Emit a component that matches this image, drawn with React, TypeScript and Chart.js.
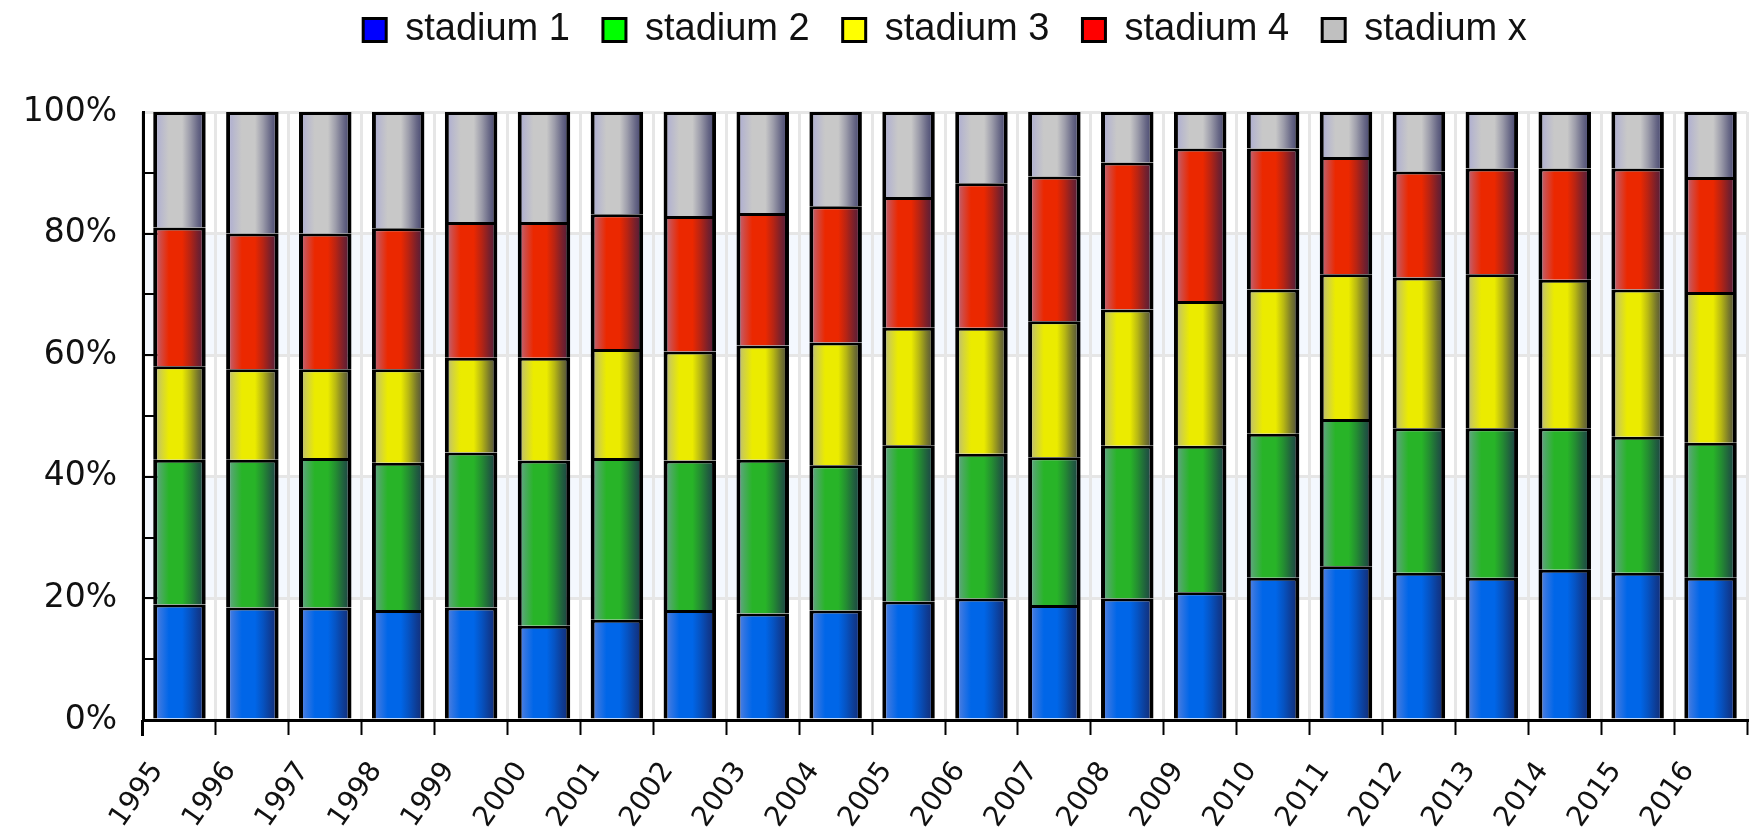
import React, { useEffect, useRef } from "react";
import { Chart, registerables } from "chart.js";

Chart.register(...registerables);

const years = ["1995","1996","1997","1998","1999","2000","2001","2002","2003","2004","2005","2006","2007","2008","2009","2010","2011","2012","2013","2014","2015","2016"];
const stadium1 = [19.0,18.5,18.5,18.1,18.5,15.5,16.5,18.1,17.5,18.0,19.5,20.0,18.9,20.0,21.0,23.4,25.3,24.2,23.4,24.7,24.2,23.4];
const stadium2 = [23.8,24.3,24.6,24.2,25.5,27.2,26.6,24.6,25.3,23.9,25.7,23.8,24.3,25.1,24.1,23.7,24.2,23.8,24.6,23.3,22.4,22.2];
const stadium3 = [15.4,14.9,14.6,15.4,15.6,16.9,17.9,17.9,18.8,20.2,19.3,20.7,22.4,22.4,23.8,23.7,23.8,24.8,25.3,24.4,24.2,24.8];
const stadium4 = [22.8,22.3,22.3,23.2,22.3,22.3,22.2,22.3,21.8,22.4,21.5,23.8,23.8,24.2,25.1,23.2,19.3,17.4,17.4,18.3,19.9,18.9];
const stadiumX = [19.0,20.0,20.0,19.1,18.1,18.1,16.8,17.1,16.6,15.5,14.0,11.7,10.6,8.3,6.0,6.0,7.4,9.8,9.3,9.3,9.3,10.7];
const seriesNames = ["stadium 1","stadium 2","stadium 3","stadium 4","stadium x"];
const yMinorTicks = [10,20,30,40,50,60,70,80,90];
const yTickStep = 20;

const legendColors = ["#0000FF","#00FF00","#FFFF00","#FF0000","#C0C0C0"];
const barBase: number[][] = [[0,102,232],[40,180,40],[235,235,0],[235,40,0],[200,200,200]];
const LAV = [150,150,215];
const DARK = [25,25,80];
const BAR_PCT = 0.72;

function mix(a: number[], b: number[], t: number) {
  const r = a.map((v, i) => Math.round(v + (b[i] - v) * t));
  return `rgb(${r[0]},${r[1]},${r[2]})`;
}

function gradientFor(si: number) {
  return (ctx: any) => {
    const base = barBase[si];
    if (ctx.type !== "data") return legendColors[si];
    const chart = ctx.chart;
    const xs = chart.scales && chart.scales.x;
    if (!xs || !chart.chartArea) return mix(base, base, 0);
    const cx = xs.getPixelForValue(ctx.dataIndex);
    const w = ((xs.right - xs.left) / years.length) * BAR_PCT;
    const g = chart.ctx.createLinearGradient(cx - w / 2, 0, cx + w / 2, 0);
    g.addColorStop(0, mix(base, LAV, 0.65));
    g.addColorStop(0.15, mix(base, LAV, 0.3));
    g.addColorStop(0.3, mix(base, LAV, 0));
    g.addColorStop(0.55, mix(base, LAV, 0));
    g.addColorStop(0.7, mix(base, DARK, 0.25));
    g.addColorStop(0.85, mix(base, DARK, 0.55));
    g.addColorStop(1, mix(base, DARK, 0.8));
    return g;
  };
}

const bandsPlugin = {
  id: "bands",
  beforeDraw(chart: any) {
    const { ctx, chartArea, scales } = chart;
    ctx.save();
    ctx.fillStyle = "#FFFFFF";
    ctx.fillRect(0, 0, chart.width, chart.height);
    const y = scales.y;
    ctx.fillStyle = "#F4F8FE";
    [[20, 40], [60, 80]].forEach(([a, b]) => {
      const top = y.getPixelForValue(b);
      const bot = y.getPixelForValue(a);
      ctx.fillRect(chartArea.left, top, chartArea.right - chartArea.left, bot - top);
    });
    ctx.restore();
  },
  beforeDatasetsDraw(chart: any) {
    const { ctx, chartArea, scales } = chart;
    const y = scales.y;
    ctx.save();
    ctx.strokeStyle = "#000";
    ctx.lineWidth = 2;
    yMinorTicks.forEach((v) => {
      const py = Math.round(y.getPixelForValue(v));
      const len = v % 20 === 0 ? 20 : 14;
      ctx.beginPath();
      ctx.moveTo(chartArea.left, py);
      ctx.lineTo(chartArea.left + len, py);
      ctx.stroke();
    });
    ctx.lineWidth = 3;
    ctx.beginPath();
    ctx.moveTo(chartArea.left - 0.5, chartArea.bottom);
    ctx.lineTo(chartArea.left - 0.5, chartArea.bottom + 16);
    ctx.stroke();
    ctx.restore();
  },
};

const legendSpace = {
  id: "legendSpace",
  beforeInit(chart: any) {
    const lg = chart.legend;
    if (!lg) return;
    const orig = lg.fit;
    lg.fit = function () {
      orig.call(this);
      this.height += 53;
    };
  },
};

export default function App() {
  const ref = useRef<HTMLCanvasElement>(null);
  useEffect(() => {
    document.body.style.margin = "0";
    const data = [stadium1, stadium2, stadium3, stadium4, stadiumX];
    const chart = new Chart(ref.current as HTMLCanvasElement, {
      type: "bar",
      data: {
        labels: years,
        datasets: data.map((d, i) => ({
          label: seriesNames[i],
          data: d,
          backgroundColor: gradientFor(i),
          borderColor: "#000000",
          borderWidth: { top: 3, left: 4, right: 4, bottom: 0 },
          borderSkipped: "start",
          barPercentage: BAR_PCT,
          categoryPercentage: 1,
        })),
      },
      options: {
        animation: false,
        responsive: true,
        maintainAspectRatio: false,
        layout: { padding: { left: 23, right: 6, top: -22, bottom: 0 } },
        plugins: {
          tooltip: { enabled: false },
          legend: {
            position: "top",
            fullSize: false,
            labels: {
              font: { family: "'Liberation Sans', Arial", size: 38 },
              color: "#111",
              boxWidth: 23,
              boxHeight: 23,
              padding: 33,
              generateLabels: (c: any) =>
                Chart.defaults.plugins.legend.labels.generateLabels(c).map((l: any, i: number) => ({
                  ...l,
                  fillStyle: legendColors[i],
                  strokeStyle: "#000",
                  lineWidth: 3,
                })),
            },
          },
        },
        scales: {
          x: {
            stacked: true,
            afterFit: (s: any) => {
              s.height = 109;
              s.paddingLeft = 0;
              s.paddingRight = 0;
            },
            grid: {
              offset: true,
              color: "#E6E6E6",
              lineWidth: 3,
              tickColor: "#000",
              tickWidth: 2,
              tickLength: 15,
            },
            border: { color: "#000", width: 3 },
            ticks: {
              autoSkip: false,
              minRotation: 55,
              maxRotation: 55,
              padding: 21,
              labelOffset: -22,
              color: "#111",
              font: { family: "'DejaVu Sans'", size: 28 },
            },
          },
          y: {
            stacked: true,
            min: 0,
            max: 100,
            afterFit: (s: any) => {
              s.width = 120;
            },
            grid: {
              color: (c: any) => (c.tick && c.tick.value > 0 ? "#E6E6E6" : "rgba(0,0,0,0)"),
              lineWidth: 3,
              drawTicks: false,
            },
            border: { color: "#000", width: 3 },
            ticks: {
              stepSize: yTickStep,
              padding: 26,
              color: "#111",
              font: { family: "'DejaVu Sans'", size: 33 },
              callback: (v: any) => v + "%",
            },
          },
        },
      },
      plugins: [bandsPlugin, legendSpace],
    });
    return () => chart.destroy();
  }, []);
  return (
    <div style={{ width: 1753, height: 829, position: "relative" }}>
      <canvas ref={ref} />
    </div>
  );
}
